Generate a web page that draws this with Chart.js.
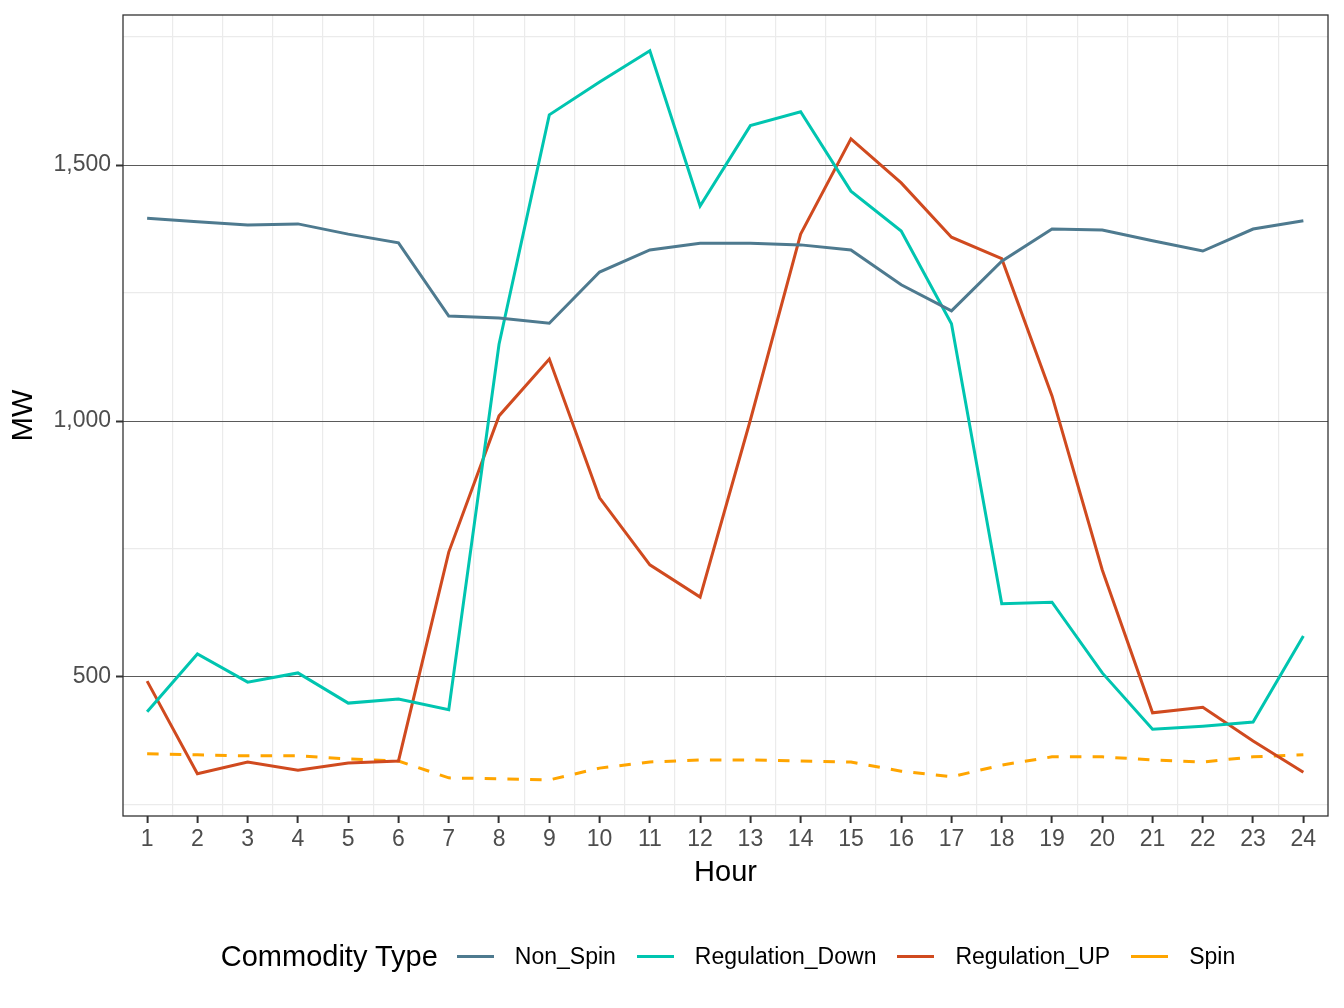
<!DOCTYPE html>
<html>
<head>
<meta charset="utf-8">
<script src="https://cdn.jsdelivr.net/npm/chart.js@4.4.1/dist/chart.umd.min.js"></script>
<style>
  html, body { margin: 0; padding: 0; background: #fff; }
  #quadro { position: relative; width: 1344px; height: 1008px; }
  #legenda {
    position: absolute; left: 0; top: 934px; width: 1456px; height: 44px;
    display: flex; justify-content: center; align-items: center;
    font-family: 'Liberation Sans', Arial, sans-serif; color: #000;
  }
  #legenda .titulo { font-size: 29px; margin-right: 19px; }
  #legenda .chave { display: inline-block; width: 37px; height: 3px; margin-right: 21px; }
  #legenda .texto { font-size: 23px; margin-right: 21px; }
  #legenda .texto:last-child { margin-right: 0; }
</style>
</head>
<body>
<div id="quadro">
  <canvas id="grafico" width="1344" height="1008"></canvas>
  <div id="legenda"></div>
</div>
<script>
// dados
var horas = [1, 2, 3, 4, 5, 6, 7, 8, 9, 10, 11, 12, 13, 14, 15, 16, 17, 18, 19, 20, 21, 22, 23, 24];
var nonSpin = [1396, 1389, 1383, 1385, 1365, 1348, 1205, 1201, 1191, 1291, 1334, 1347, 1347, 1344, 1334, 1266, 1215, 1312, 1375, 1373, 1352, 1332, 1375, 1391];
var regulationDown = [432, 545, 490, 508, 449, 457, 436, 1150, 1598, 1662, 1723, 1420, 1577, 1604, 1449, 1371, 1190, 643, 646, 508, 398, 404, 412, 580];
var regulationUp = [492, 311, 334, 318, 332, 336, 744, 1010, 1121, 850, 719, 656, 1002, 1365, 1551, 1465, 1359, 1317, 1049, 709, 430, 441, 375, 314];
var spin = [350, 348, 346, 346, 340, 336, 303, 301, 299, 322, 334, 338, 338, 336, 334, 316, 305, 328, 344, 344, 338, 334, 344, 348];

var tipos = ['Non_Spin', 'Regulation_Down', 'Regulation_UP', 'Spin'];
var cores = ['#4E7A8F', '#00C5B0', '#D04A1F', '#FFA500'];
var valores = [nonSpin, regulationDown, regulationUp, spin];

var marcasY = [250, 500, 750, 1000, 1250, 1500, 1750];
var rotulosY = [500, 1000, 1500];

var fonte = "'Liberation Sans', Arial, sans-serif";
var transparente = 'rgba(0,0,0,0)';

var datasets = tipos.map(function (nome, i) {
    return {
        label: nome,
        data: horas.map(function (h, j) { return { x: h, y: valores[i][j] }; }),
        borderColor: cores[i],
        backgroundColor: cores[i],
        borderWidth: 3,
        borderDash: nome == 'Spin' ? [11.5, 11.2] : [],
        pointRadius: 0,
        tension: 0,
        fill: false
    };
});

// moldura do painel (panel.border do ggplot)
var moldura = {
    id: 'moldura',
    afterDatasetsDraw: function (chart) {
        var a = chart.chartArea;
        var ctx = chart.ctx;
        ctx.save();
        ctx.strokeStyle = '#333333';
        ctx.lineWidth = 1.3;
        ctx.strokeRect(a.left, a.top, a.right - a.left, a.bottom - a.top);
        ctx.restore();
    }
};

new Chart(document.getElementById('grafico'), {
    type: 'line',
    data: { datasets: datasets },
    plugins: [moldura],
    options: {
        responsive: false,
        animation: false,
        devicePixelRatio: 1,
        layout: { padding: { top: 15, right: 16, bottom: 118, left: 0 } },
        plugins: {
            legend: { display: false },
            tooltip: { enabled: false }
        },
        scales: {
            x: {
                type: 'linear',
                min: 0.52,
                max: 24.49,
                afterFit: function (scale) {
                    scale.height = 74;
                    scale.paddingLeft = 0;
                    scale.paddingRight = 0;
                },
                afterBuildTicks: function (scale) {
                    var t = [];
                    horas.forEach(function (h) {
                        t.push({ value: h });
                        if (h < horas[horas.length - 1]) t.push({ value: h + 0.5 });
                    });
                    scale.ticks = t;
                },
                border: { display: false },
                grid: {
                    color: function (c) { return c.tick && c.tick.value % 1 !== 0 ? '#EBEBEB' : transparente; },
                    tickColor: function (c) { return c.tick && c.tick.value % 1 === 0 ? '#333333' : transparente; },
                    lineWidth: 1.2,
                    tickWidth: 2,
                    tickLength: 7
                },
                ticks: {
                    autoSkip: false,
                    maxRotation: 0,
                    padding: 3,
                    color: '#4D4D4D',
                    font: { family: fonte, size: 23 },
                    callback: function (v) { return v % 1 === 0 ? String(v) : ''; }
                },
                title: {
                    display: true,
                    text: 'Hour',
                    color: '#000',
                    font: { family: fonte, size: 29 },
                    padding: { top: 0, bottom: 0 }
                }
            },
            y: {
                type: 'linear',
                min: 228.5,
                max: 1793,
                afterFit: function (scale) {
                    scale.width = 123;
                    scale.paddingTop = 0;
                    scale.paddingBottom = 0;
                },
                afterBuildTicks: function (scale) {
                    scale.ticks = marcasY.map(function (v) { return { value: v }; });
                },
                border: { display: false },
                grid: {
                    color: function (c) { return c.tick && rotulosY.indexOf(c.tick.value) >= 0 ? '#5A5A5A' : '#EBEBEB'; },
                    tickColor: function (c) { return c.tick && rotulosY.indexOf(c.tick.value) >= 0 ? '#333333' : transparente; },
                    lineWidth: function (c) { return c.tick && rotulosY.indexOf(c.tick.value) >= 0 ? 1 : 1.2; },
                    tickWidth: 2,
                    tickLength: 7
                },
                ticks: {
                    autoSkip: false,
                    padding: 5,
                    color: '#4D4D4D',
                    font: { family: fonte, size: 23 },
                    callback: function (v) { return rotulosY.indexOf(v) >= 0 ? v.toLocaleString('en-US') : ''; }
                },
                title: {
                    display: true,
                    text: 'MW',
                    color: '#000',
                    font: { family: fonte, size: 29 },
                    padding: { top: 7, bottom: 0 }
                }
            }
        }
    }
});

// legenda em linha, como no ggplot
var legenda = document.getElementById('legenda');
var titulo = document.createElement('span');
titulo.className = 'titulo';
titulo.textContent = 'Commodity Type';
legenda.appendChild(titulo);
tipos.forEach(function (nome, i) {
    var chave = document.createElement('span');
    chave.className = 'chave';
    chave.style.background = cores[i];
    legenda.appendChild(chave);
    var texto = document.createElement('span');
    texto.className = 'texto';
    texto.textContent = nome;
    legenda.appendChild(texto);
});
</script>
</body>
</html>
